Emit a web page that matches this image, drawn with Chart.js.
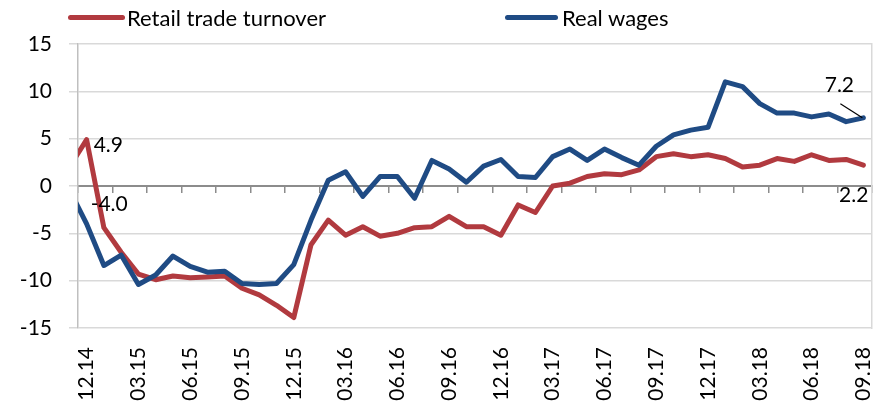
<!DOCTYPE html>
<html>
<head>
<meta charset="utf-8">
<script src="https://cdn.jsdelivr.net/npm/chart.js@4.4.0/dist/chart.umd.min.js"></script>
<style>
body{margin:0;background:#fff;}
.wrap{position:relative;width:885px;height:410px;font-family:Lato, sans-serif;}
canvas{display:block;}
.legend{position:absolute;top:0;left:0;width:885px;height:40px;font-size:22px;color:#000;}
.legend span{position:absolute;top:4px;white-space:nowrap;}
.legend i{position:absolute;top:15px;height:5px;border-radius:3px;}
</style>
</head>
<body>
<div class="wrap">
  <canvas id="lineGraph" width="885" height="410"></canvas>
  <div class="legend">
    <i style="left:68px;width:57px;background:#b13a3f"></i><span style="left:127px">Retail trade turnover</span>
    <i style="left:505px;width:53px;background:#1f4b84"></i><span style="left:562px">Real wages</span>
  </div>
</div>
<script>
// months (first one sits just left of the visible axis)
var months = ['11.14','12.14',
  '01.15','02.15','03.15','04.15','05.15','06.15','07.15','08.15','09.15','10.15','11.15','12.15',
  '01.16','02.16','03.16','04.16','05.16','06.16','07.16','08.16','09.16','10.16','11.16','12.16',
  '01.17','02.17','03.17','04.17','05.17','06.17','07.17','08.17','09.17','10.17','11.17','12.17',
  '01.18','02.18','03.18','04.18','05.18','06.18','07.18','08.18','09.18'];

var tickLabels = ['12.14','03.15','06.15','09.15','12.15','03.16','06.16','09.16',
  '12.16','03.17','06.17','09.17','12.17','03.18','06.18','09.18'];

var retail = [2.0, 4.9, -4.4, -7.0, -9.3, -9.9, -9.5, -9.7, -9.6, -9.5, -10.8, -11.5, -12.6, -13.9,
  -6.2, -3.6, -5.2, -4.3, -5.3, -5.0, -4.4, -4.3, -3.2, -4.3, -4.3, -5.2,
  -2.0, -2.8, 0.0, 0.3, 1.0, 1.3, 1.2, 1.7, 3.1, 3.4, 3.1, 3.3,
  2.9, 2.0, 2.2, 2.9, 2.6, 3.3, 2.7, 2.8, 2.2];

var wages = [-0.4, -4.0, -8.4, -7.3, -10.4, -9.4, -7.4, -8.5, -9.1, -9.0, -10.3, -10.4, -10.3, -8.3,
  -3.6, 0.6, 1.5, -1.1, 1.0, 1.0, -1.3, 2.7, 1.8, 0.4, 2.1, 2.8,
  1.0, 0.9, 3.1, 3.9, 2.7, 3.9, 3.0, 2.2, 4.2, 5.4, 5.9, 6.2,
  11.0, 10.5, 8.7, 7.7, 7.7, 7.3, 7.6, 6.8, 7.2];

var red = '#b13a3f';
var blue = '#1f4b84';

// small tick marks on the zero line, every two months
var tickMarks = [];
for (var v = 0.5; v <= months.length - 0.5; v += 2) tickMarks.push(v);

function points(arr){
  return arr.map(function(val, i){ return {x: i, y: val}; });
}

function noPad(s){
  s.paddingLeft = 0;
  s.paddingRight = 0;
}

var valueLabels = {
  id: 'valueLabels',
  afterDatasetsDraw: function(chart){
    var ctx = chart.ctx, x = chart.scales.x, y = chart.scales.y;
    var first = months.indexOf('12.14'), last = months.length - 1;
    ctx.save();
    ctx.font = '21px Lato';
    ctx.fillStyle = '#000';
    ctx.textBaseline = 'middle';

    function put(arr, i, dx, dy, align){
      ctx.textAlign = align;
      ctx.fillText(arr[i].toFixed(1), x.getPixelForValue(i) + dx, y.getPixelForValue(arr[i]) + dy);
    }
    put(retail, first, 7, 6, 'left');
    put(wages, first, 4, -20, 'left');
    put(wages, last, -24, -33, 'center');
    put(retail, last, 5, 30, 'right');

    // leader line for the last wages label
    var px = x.getPixelForValue(last), py = y.getPixelForValue(wages[last]);
    ctx.strokeStyle = '#000';
    ctx.lineWidth = 1.2;
    ctx.beginPath();
    ctx.moveTo(px - 23, py - 14);
    ctx.lineTo(px - 1, py);
    ctx.stroke();
    ctx.restore();
  }
};

Chart.defaults.font.family = 'Lato';

var lineGraph = document.getElementById('lineGraph').getContext('2d');
var chart = new Chart(lineGraph, {
  type: 'line',
  data: {
    datasets: [{
      label: 'Real wages',
      data: points(wages),
      borderColor: blue,
      borderWidth: 5,
      order: 0
    }, {
      label: 'Retail trade turnover',
      data: points(retail),
      borderColor: red,
      borderWidth: 5,
      order: 1
    }]
  },
  options: {
    responsive: false,
    animation: false,
    layout: {autoPadding: false, padding: {top: 44, right: 13, left: 0, bottom: 0}},
    elements: {
      point: {radius: 0},
      line: {tension: 0, borderJoinStyle: 'round', borderCapStyle: 'round'}
    },
    plugins: {legend: {display: false}, tooltip: {enabled: false}},
    scales: {
      x: {
        type: 'linear',
        min: 0.5,
        max: months.length - 0.5,
        afterBuildTicks: function(s){
          s.ticks = tickLabels.map(function(t){ return {value: months.indexOf(t)}; });
        },
        ticks: {
          autoSkip: false,
          minRotation: 90,
          maxRotation: 90,
          padding: 19,
          color: '#000',
          font: {size: 21},
          callback: function(v){ return months[v]; }
        },
        grid: {display: false, drawTicks: false},
        border: {display: false},
        afterFit: function(s){ s.height = 82; noPad(s); }
      },
      x2: {
        type: 'linear',
        min: 0.5,
        max: months.length - 0.5,
        position: {y: 0},
        afterBuildTicks: function(s){
          s.ticks = tickMarks.map(function(t){ return {value: t}; });
        },
        ticks: {display: false},
        grid: {drawOnChartArea: false, tickLength: 6, color: '#8c8c8c', lineWidth: 1.5},
        border: {color: '#8c8c8c', width: 2},
        afterFit: noPad
      },
      y: {
        min: -15,
        max: 15,
        ticks: {stepSize: 5, padding: 17, color: '#000', font: {size: 21}},
        grid: {color: '#d9d9d9', lineWidth: 1.5, tickLength: 9},
        border: {color: '#bfbfbf', width: 1.5},
        afterFit: function(s){ s.width = 78; }
      },
      y2: {
        position: 'right',
        min: -15,
        max: 15,
        ticks: {display: false},
        grid: {display: false},
        border: {color: '#d9d9d9', width: 1.5},
        afterFit: function(s){ s.width = 0; }
      }
    }
  },
  plugins: [valueLabels]
});
</script>
</body>
</html>
